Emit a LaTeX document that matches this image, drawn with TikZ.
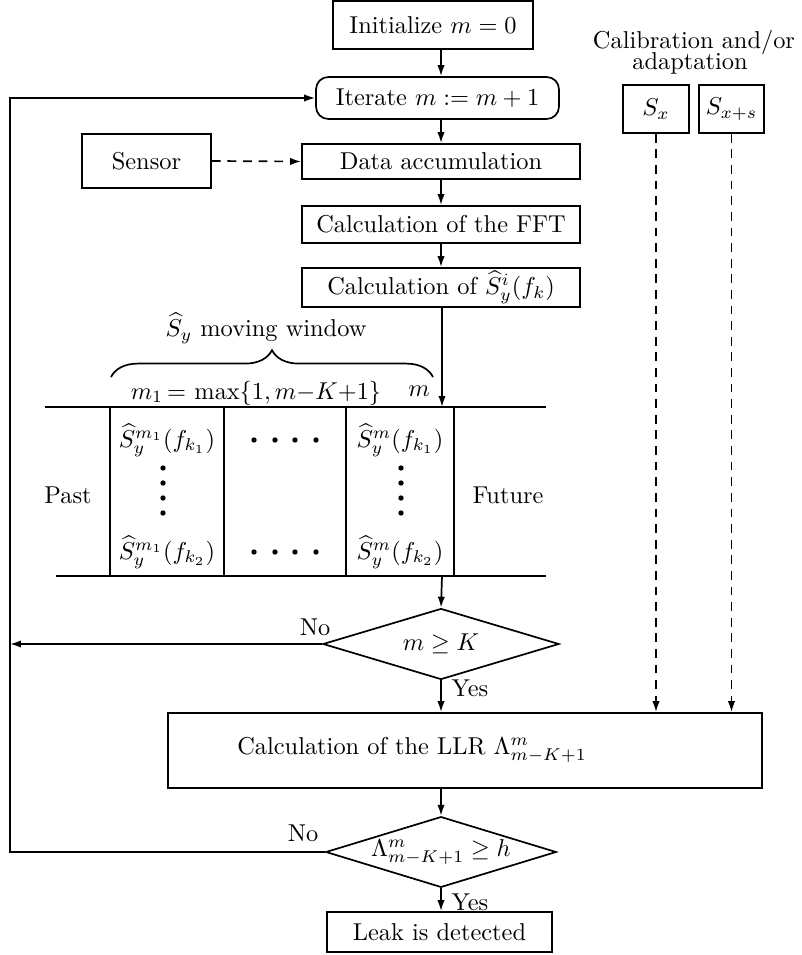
\documentclass[tikz,border=0pt]{standalone}
\usetikzlibrary{arrows.meta,shapes.geometric,decorations.pathreplacing}
\begin{document}
\begin{tikzpicture}[x=0.41pt,y=-0.41pt,line width=0.7pt,
  arr/.style={-{Latex[length=4.5pt,width=3pt]}},
  darr/.style={-{Latex[length=4.5pt,width=3pt]},dash pattern=on 3.6pt off 2.8pt},
  box/.style={draw,rectangle,inner sep=0pt},
  dia/.style={draw,diamond,aspect=3.3,inner sep=0pt},
  lbl/.style={inner sep=0pt}]
\useasboundingbox (0,0) rectangle (801,955);
\coordinate (ax) at (441,0);
% boxes
\node[box,minimum width=82pt,minimum height=19.7pt] (init) at (433,25) {Initialize $m=0$};
\node[box,rounded corners=5pt,minimum width=99.6pt,minimum height=17.2pt] (iter) at (437.5,98) {Iterate $m:=m+1$};
\node[box,minimum width=52.9pt,minimum height=22.1pt] (sensor) at (146.5,161) {Sensor};
\node[box,minimum width=114pt,minimum height=14.35pt] (data) at (441,161.5) {Data accumulation};
\node[box,minimum width=114pt,minimum height=15.2pt] (fft) at (441,224.5) {Calculation of the FFT};
\node[box,minimum width=114pt,minimum height=16pt] (cs) at (441,287.5) {Calculation of $\widehat{S}_y^i(f_k)$};
\node[lbl] (cal1) at (694,42) {Calibration and/or};
\node[lbl] (cal2) at (690,63) {adaptation};
\node[box,minimum width=27pt,minimum height=19.7pt] (sx) at (656,109) {$S_x$};
\node[box,minimum width=26.7pt,minimum height=19.7pt] (sxs) at (731.5,109) {$S_{x+s}$};
\node[box,minimum width=243.5pt,minimum height=30.75pt] (llr) at (465,750.5) {};
\node[lbl] (llrt) at (412,750) {Calculation of the LLR $\Lambda^m_{m-K+1}$};
\node[dia,minimum width=96.8pt,minimum height=29.1pt] (d1) at (441,644) {$m\geq K$};
\node[dia,minimum width=94.5pt,minimum height=29pt] (d2) at (441,852) {$\Lambda^m_{m-K+1}\geq h$};
\node[box,minimum width=92.25pt,minimum height=16.4pt] (leak) at (439.5,932) {Leak is detected};
% window
\node[lbl] (win) at (266,328) {$\widehat{S}_y$ moving window};
\draw[decorate,decoration={brace,amplitude=11pt}] (111,377) -- (433,377);
\node[lbl] (m1) at (256,393) {$m_1\,{=}\,\max\{1,m{-}K{+}1\}$};
\node[lbl] (mm) at (419,391) {$m$};
% table
\coordinate (tt) at (442,407);
\coordinate (tb) at (442,576);
\draw (45,407) -- (546,407);
\draw (56,576) -- (546,576);
\foreach \xx in {110,224,346,454} \draw (\xx,407) -- (\xx,576);
\node[lbl] (past) at (68,495) {Past};
\node[lbl] (fut) at (508,495) {Future};
\node[lbl] (c11) at (167,440) {$\widehat{S}_y^{m_1}(f_{k_1})$};
\node[lbl] (c12) at (167,552) {$\widehat{S}_y^{m_1}(f_{k_2})$};
\node[lbl] (c31) at (400,440) {$\widehat{S}_y^{m}(f_{k_1})$};
\node[lbl] (c32) at (400,552) {$\widehat{S}_y^{m}(f_{k_2})$};
\foreach \yy in {468,483,498,513} {\fill (163,\yy) circle (1.1pt); \fill (401,\yy) circle (1.1pt);}
\foreach \xx in {254,275,295,316} {\fill (\xx,440) circle (1.1pt); \fill (\xx,552) circle (1.1pt);}
% connectors
\draw[arr] (init.south -| ax) -- (iter.north -| ax);
\draw[arr] (iter.south -| ax) -- (data.north -| ax);
\draw[arr] (data.south -| ax) -- (fft.north -| ax);
\draw[arr] (fft.south -| ax) -- (cs.north -| ax);
\draw[arr] (cs.south -| tt) -- (tt);
\draw[arr] (tb) -- (d1.north);
\draw[arr] (d1.south) -- (llr.north -| ax);
\draw[arr] (llr.south -| ax) -- (d2.north);
\draw[arr] (d2.south) -- (leak.north -| d2.south);
\draw[darr] (sensor.east) -- (data.west);
\draw[darr] (sx.south) -- (sx.south |- llr.north);
\draw[darr] (sxs.south) -- (sxs.south |- llr.north);
\coordinate (la) at (10,644);
\coordinate (lb) at (10,852);
\coordinate (lt) at (10,98);
\draw[arr] (d1.west) -- (la);
\draw[arr] (d2.west) -- (lb) -- (lt) -- (iter.west);
\node[lbl] (no1) at (315,627) {No};
\node[lbl] (no2) at (303,833) {No};
\node[lbl] (yes1) at (470,688) {Yes};
\node[lbl] (yes2) at (470,902) {Yes};
\end{tikzpicture}
\end{document}
